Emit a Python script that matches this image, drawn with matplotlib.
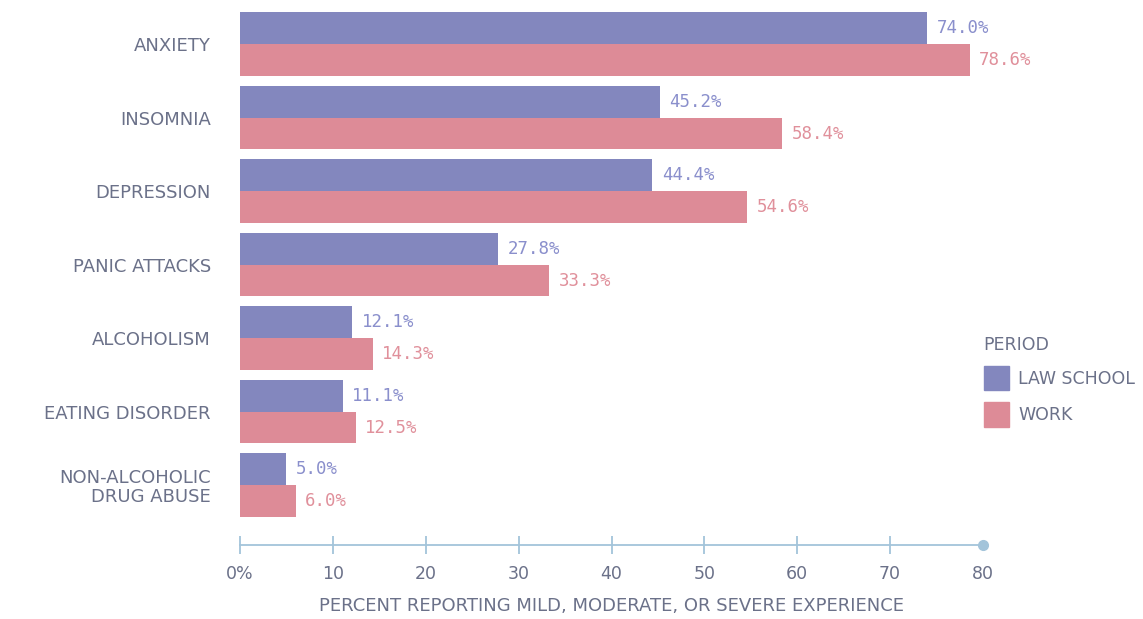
import numpy as np
import matplotlib.pyplot as plt
from matplotlib.patches import Patch

categories = ['ANXIETY', 'INSOMNIA', 'DEPRESSION', 'PANIC ATTACKS',
              'ALCOHOLISM', 'EATING DISORDER', 'NON-ALCOHOLIC\nDRUG ABUSE']
law_school = [74.0, 45.2, 44.4, 27.8, 12.1, 11.1, 5.0]
work = [78.6, 58.4, 54.6, 33.3, 14.3, 12.5, 6.0]
xticks = [0, 10, 20, 30, 40, 50, 60, 70, 80]
xticklabels = ['0%', '10', '20', '30', '40', '50', '60', '70', '80']

blue = '#8387be'
pink = '#dd8b97'
blue_txt = '#8a8fcc'
pink_txt = '#e0909b'
gray = '#6b7189'
axis_col = '#a3c4da'

plt.rcParams['font.family'] = ['DejaVu Sans']

fig = plt.figure(figsize=(11.43, 6.19), dpi=100)
ax = fig.add_axes([240/1143, 74/619, (983-240)/1143, 545/619])

y = np.arange(len(categories))
h = 0.435
ax.barh(y - h/2, law_school, height=h, color=blue, label='LAW SCHOOL')
ax.barh(y + h/2, work, height=h, color=pink, label='WORK')

# value labels next to each bar
for i in range(len(categories)):
    ax.text(law_school[i] + 1.0, y[i] - h/2, f'{law_school[i]:.1f}%', va='center', ha='left',
            color=blue_txt, fontsize=12.5, family='DejaVu Sans Mono')
    ax.text(work[i] + 1.0, y[i] + h/2, f'{work[i]:.1f}%', va='center', ha='left',
            color=pink_txt, fontsize=12.5, family='DejaVu Sans Mono')

ax.set_xlim(0, 80)
ax.set_ylim(6.816, -0.599)
ax.set_yticks(y)
ax.set_yticklabels(categories, color=gray, fontsize=13, linespacing=1.05)
ax.tick_params(axis='y', length=0, pad=21)

for s in ['top', 'right', 'left']:
    ax.spines[s].set_visible(False)
ax.spines['bottom'].set_color(axis_col)
ax.spines['bottom'].set_linewidth(1.3)
ax.set_xticks(xticks)
ax.set_xticklabels(xticklabels, color=gray, fontsize=12.5)
ax.tick_params(axis='x', direction='inout', length=13, width=1.3, color=axis_col, pad=8)
ax.xaxis.get_major_ticks()[-1].tick1line.set_visible(False)
ax.plot([80], [6.816], 'o', color=axis_col, markersize=7, clip_on=False)
ax.set_xlabel('PERCENT REPORTING MILD, MODERATE, OR SEVERE EXPERIENCE', color=gray,
              fontsize=13, labelpad=10)

handles = [Patch(color=blue, label='LAW SCHOOL'), Patch(color=pink, label='WORK')]
leg = fig.legend(handles=handles, title='PERIOD', loc='upper left',
                 bbox_to_anchor=(968/1143, 1 - 320/619), frameon=False,
                 fontsize=12.5, title_fontsize=12.5, handlelength=1.45, handleheight=1.8,
                 handletextpad=0.55, labelspacing=0.7, alignment='left')
for t in leg.get_texts():
    t.set_color(gray)
leg.get_title().set_color(gray)

plt.savefig('out.png', dpi=100)
